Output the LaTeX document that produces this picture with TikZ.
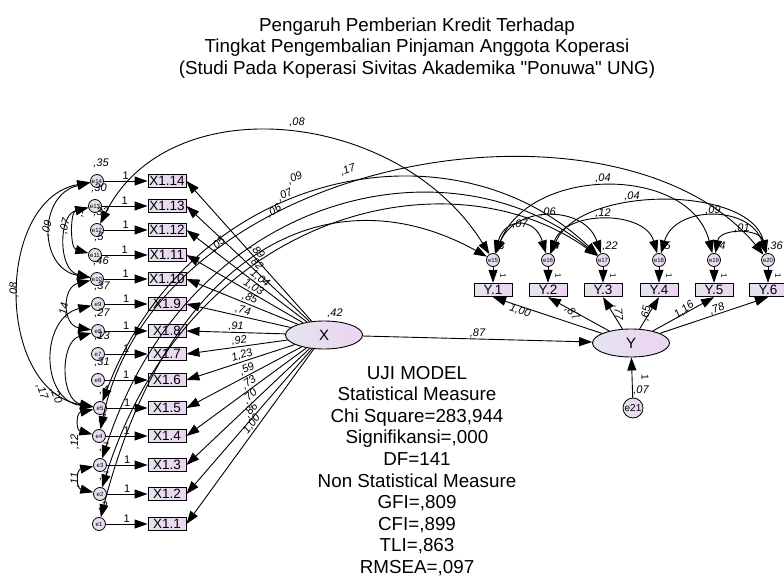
\documentclass[tikz,border=0pt]{standalone}
\usepackage{fontspec}
\setmainfont{Liberation Sans}[Ligatures=TeXOff]
\usetikzlibrary{shapes.geometric,arrows.meta}
\definecolor{lavL}{HTML}{E4E4EE}
\definecolor{lavR}{HTML}{ECD4F2}
\tikzset{
 errc/.style={circle,draw,line width=0.8pt,minimum size=13pt,inner sep=0pt,left color=lavL,right color=lavR,font=\fontsize{6}{6}\selectfont},
 obsbox/.style={rectangle,draw,line width=0.9pt,minimum width=38pt,minimum height=13.5pt,inner sep=0pt,left color=lavL,right color=lavR,font=\fontsize{13.5}{14}\selectfont},
 latent/.style={ellipse,draw,line width=0.9pt,minimum width=77pt,minimum height=28pt,inner sep=0pt,left color=lavL,right color=lavR,font=\fontsize{15}{15}\selectfont},
 arr/.style={line width=0.9pt,-{Triangle[length=13pt,width=9pt]}},
 cov/.style={line width=0.9pt,{Triangle[length=13pt,width=9pt]}-{Triangle[length=13pt,width=9pt]}},
 lab/.style={font=\fontsize{11}{11}\selectfont\itshape,inner sep=1pt},
 one/.style={font=\fontsize{11}{11}\selectfont,inner sep=1pt},
 tinyone/.style={font=\fontsize{8}{8}\selectfont,inner sep=0pt},
 bigtext/.style={align=center,font=\fontsize{18.8}{21.6}\selectfont}
}
\begin{document}
\begin{tikzpicture}[x=1pt,y=-1pt]
\useasboundingbox (0,0) rectangle (784,577);
\node[bigtext] (title) at (417,48) {Pengaruh Pemberian Kredit Terhadap\\Tingkat Pengembalian Pinjaman Anggota Koperasi\\(Studi Pada Koperasi Sivitas Akademika "Ponuwa" UNG)};
\node[bigtext] (stats) at (417,471) {UJI MODEL\\Statistical Measure\\Chi Square=283,944\\Signifikansi=,000\\DF=141\\Non Statistical Measure\\GFI=,809\\CFI=,899\\TLI=,863\\RMSEA=,097};

% left indicators
\foreach \n/\ex/\y/\v in {14/97/181/{,35},13/95/206/{,30},12/97/230/{,32},11/95/255/{,5},10/97/279/{,46},9/98/304/{,37},8/98/331/{,27},7/98/354/{,13},6/98/380/{,31},5/100/408/{,4},4/99/436/{,1},3/100/465/{,7},2/100/494/{,7},1/99/524/{,2}}{
  \node[obsbox] (x\n) at (167,\y) {X1.\n};
  \node[errc] (e\n) at (\ex,\y) {e\n};
  \node[lab,anchor=south] (v\n) at ([xshift=4pt,yshift=5pt]e\n.north) {\v};
  \draw[arr] (e\n) -- node[one,above,pos=0.5]{1} (x\n);
}

% latent variables
\node[latent] (X) at (324,335) {X};
\node[latent] (Y) at (631,343) {Y};
\node[lab] (vX) at (335,313) {,42};

% loadings X
\foreach \n/\l/\p in {14/{,89}/0.47,13/{,82}/0.47,12/{1,04}/0.42,11/{1,03}/0.45,10/{,85}/0.45,9/{,74}/0.47,8/{,91}/0.5,7/{,92}/0.47,6/{1,23}/0.47,5/{,59}/0.45,4/{,73}/0.45,3/{,70}/0.45,2/{,86}/0.45,1/{1,00}/0.45}{
  \draw[arr] (X) -- node[lab,sloped,above,pos=\p]{\l} (x\n.east);
}

% right indicators
\foreach \n/\x/\v in {1/493/{,3},2/548/{,4},3/603/{,22},4/659/{,5},5/714/{,4},6/768/{,36}}{
  \node[obsbox] (y\n) at (\x,290) {Y.\n};
  \pgfmathtruncatemacro{\en}{\n+14}
  \node[errc] (e\en) at (\x,260) {e\en};
  \node[lab,anchor=south] (v\en) at ([xshift=7pt,yshift=1pt]e\en.north) {\v};
  \draw[arr] (e\en) -- (y\n);
  \node[tinyone,rotate=-90] at (\x+10,276) {1};
}

% structural
\draw[arr] (X) -- node[lab,above,pos=0.5]{,87} (Y);
\node[errc,minimum size=20pt,font=\fontsize{10}{10}\selectfont] (e21) at (633,408) {e21};
\draw[arr] (e21) -- (Y);
\node[tinyone,rotate=-90,font=\fontsize{10}{10}\selectfont] at (645,377) {1};
\node[lab] at (641,390) {,07};

\draw[arr] (Y) -- (y1.south);
\draw[arr] (Y) -- (y2.south);
\draw[arr] (Y) -- (y3.south);
\draw[arr] (Y) -- (y4.south);
\draw[arr] (Y) -- (y5.south);
\draw[arr] (Y) -- (y6.south);
\node[lab,rotate=-18] at (520,311) {1,00};
\node[lab,rotate=-50] at (572,313) {,87};
\node[lab,rotate=-85] at (618,313) {,77};
\node[lab,rotate=80] at (646,313) {,65};
\node[lab,rotate=35] at (684,310) {1,16};
\node[lab,rotate=22] at (717,309) {,78};

% left covariances
\draw[cov] (e14) .. controls (-5,200) and (-5,390) .. (e5);
\node[lab,rotate=90] at (14,290) {,08};
\draw[cov] (e14) .. controls (38,195) and (38,268) .. (e10);
\node[lab,rotate=75] at (47,228) {,09};
\draw[cov] (e13) .. controls (58,215) and (58,270) .. (e10);
\node[lab,rotate=75] at (65,226) {,07};
\draw[cov] (e13) .. controls (70,212) and (70,248) .. (e11);
\node[lab,rotate=80] at (80,212) {,1};
\draw[cov] (e10) .. controls (62,287) and (62,325) .. (e8);
\node[lab,rotate=80] at (64,310) {,14};
\draw[cov] (e9) .. controls (40,318) and (40,400) .. (e5);
\node[lab,rotate=-70] at (42,392) {,17};
\draw[cov] (e8) .. controls (60,342) and (60,400) .. (e5);
\node[lab,rotate=-70] at (56,396) {,20};
\draw[cov] (e5) .. controls (76,413) and (76,430) .. (e4);
\node[lab,rotate=90] at (75,442) {,12};
\draw[cov] (e3) .. controls (76,470) and (76,488) .. (e2);
\node[lab,rotate=90] at (75,480) {,11};

% cross covariances (left errors to right errors)
\draw[cov] (e12) .. controls (170,85) and (400,110) .. (e15);
\node[lab] at (297,122) {,08};
\draw[cov] (e4) .. controls (160,150) and (620,80) .. (e20);
\node[lab,rotate=20] at (348,170) {,17};
\draw[cov] (e5) .. controls (190,170) and (450,115) .. (e17);
\node[lab,rotate=25] at (295,178) {,09};
\draw[cov] (e3) .. controls (190,190) and (450,135) .. (e17);
\node[lab,rotate=28] at (285,195) {,07};
\draw[cov] (e2) .. controls (190,210) and (450,150) .. (e17);
\node[lab,rotate=30] at (274,211) {,06};
\draw[cov] (e1) .. controls (170,250) and (330,170) .. (e15);
\node[lab,rotate=40] at (218,244) {,05};

% right covariances
\draw[cov] (e15) .. controls (505,217) and (535,217) .. (e16);
\node[lab] at (520,224) {,07};
\draw[cov] (e15) .. controls (515,205) and (585,205) .. (e17);
\node[lab] at (548,212) {,06};
\draw[cov] (e15) .. controls (530,165) and (690,165) .. (e19);
\node[lab] at (603,178) {,04};
\draw[cov] (e16) .. controls (565,210) and (645,210) .. (e18);
\node[lab] at (603,213) {,12};
\draw[cov] (e16) .. controls (580,185) and (750,185) .. (e20);
\node[lab] at (632,196) {,04};
\draw[cov] (e18) .. controls (675,205) and (750,205) .. (e20);
\node[lab] at (713,210) {,09};
\draw[cov] (e19) .. controls (720,228) and (760,228) .. (e20);
\node[lab] at (742,228) {,01};
\end{tikzpicture}
\end{document}
